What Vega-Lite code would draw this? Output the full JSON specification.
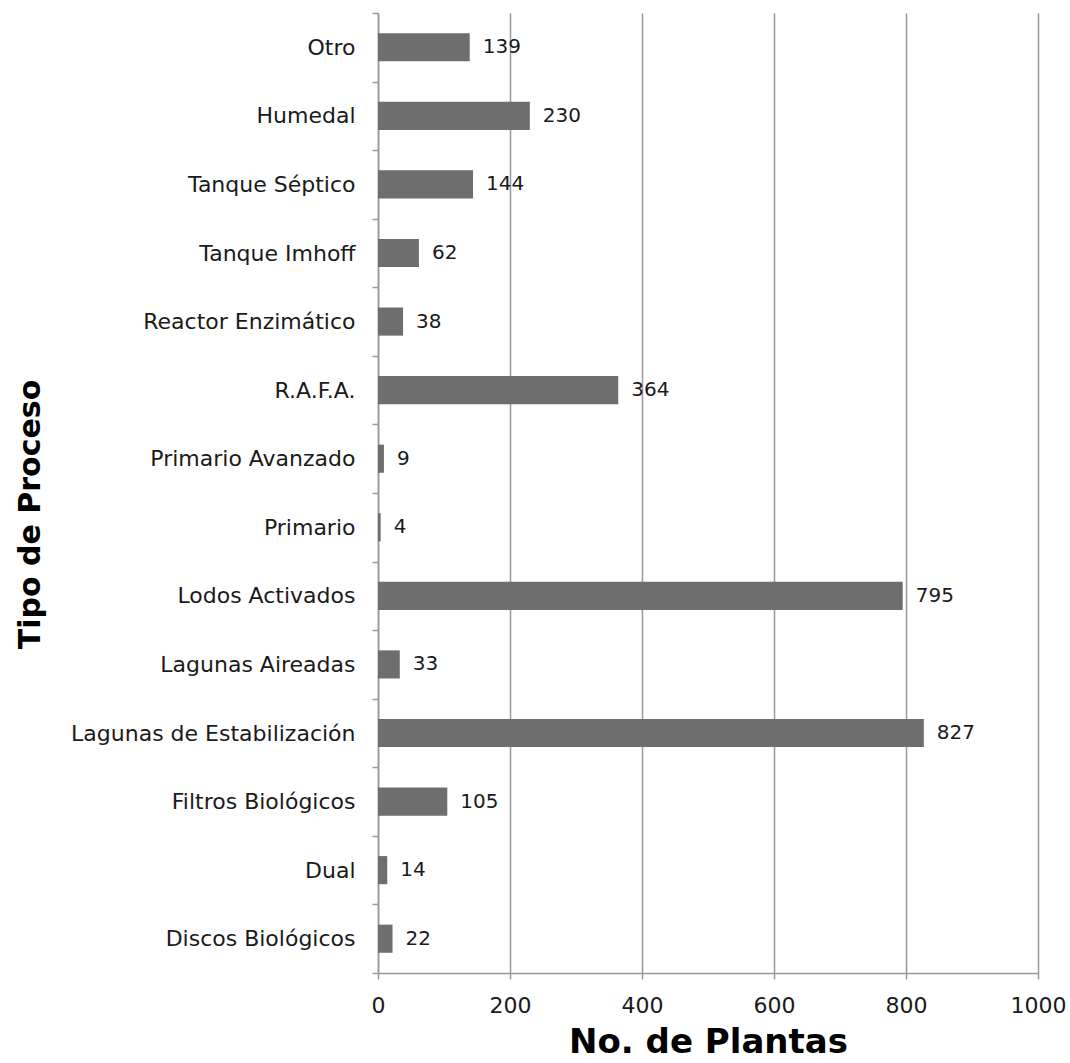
{
  "$schema": "https://vega.github.io/schema/vega-lite/v6.json",
  "autosize": "none",
  "width": 660,
  "height": 960,
  "padding": {"left": 378, "top": 13, "right": 32, "bottom": 90},
  "background": "white",
  "data": {"values": [
    {"proceso": "Otro", "plantas": 139},
    {"proceso": "Humedal", "plantas": 230},
    {"proceso": "Tanque Séptico", "plantas": 144},
    {"proceso": "Tanque Imhoff", "plantas": 62},
    {"proceso": "Reactor Enzimático", "plantas": 38},
    {"proceso": "R.A.F.A.", "plantas": 364},
    {"proceso": "Primario Avanzado", "plantas": 9},
    {"proceso": "Primario", "plantas": 4},
    {"proceso": "Lodos Activados", "plantas": 795},
    {"proceso": "Lagunas Aireadas", "plantas": 33},
    {"proceso": "Lagunas de Estabilización", "plantas": 827},
    {"proceso": "Filtros Biológicos", "plantas": 105},
    {"proceso": "Dual", "plantas": 14},
    {"proceso": "Discos Biológicos", "plantas": 22}
  ]},
  "config": {
    "view": {"stroke": null},
    "axis": {
      "labelFont": "DejaVu Sans",
      "labelColor": "#1a1a1a",
      "titleFont": "DejaVu Sans",
      "titleFontWeight": "bold",
      "titleColor": "#000000",
      "domainColor": "#999999",
      "domainWidth": 1.5,
      "tickColor": "#999999",
      "tickWidth": 1.5,
      "gridColor": "#999999",
      "gridWidth": 1.5
    }
  },
  "encoding": {
    "y": {
      "field": "proceso",
      "type": "nominal",
      "sort": null,
      "scale": {"paddingInner": 0, "paddingOuter": 0},
      "axis": {
        "title": "Tipo de Proceso",
        "titleFontSize": 30,
        "labelFontSize": 22,
        "labelLimit": 0,
        "tickBand": "extent",
        "tickSize": 6,
        "labelPadding": 17,
        "grid": false,
        "titleAngle": -90,
        "titleX": -348,
        "titleY": 501,
        "titleAlign": "center",
        "titleBaseline": "middle"
      }
    },
    "x": {
      "field": "plantas",
      "type": "quantitative",
      "scale": {"domain": [0, 1000], "nice": false},
      "axis": {
        "title": "No. de Plantas",
        "titleFontSize": 34,
        "labelFontSize": 22,
        "labelFlush": false,
        "format": "d",
        "values": [0, 200, 400, 600, 800, 1000],
        "tickSize": 6,
        "labelPadding": 16,
        "grid": true,
        "titleY": 69,
        "titleBaseline": "middle"
      }
    }
  },
  "layer": [
    {"mark": {"type": "bar", "color": "#6e6e6e", "height": {"band": 0.41}}},
    {
      "mark": {"type": "text", "align": "left", "baseline": "middle", "dx": 13, "font": "DejaVu Sans", "fontSize": 20, "color": "#1a1a1a"},
      "encoding": {"text": {"field": "plantas", "type": "quantitative"}}
    }
  ]
}
